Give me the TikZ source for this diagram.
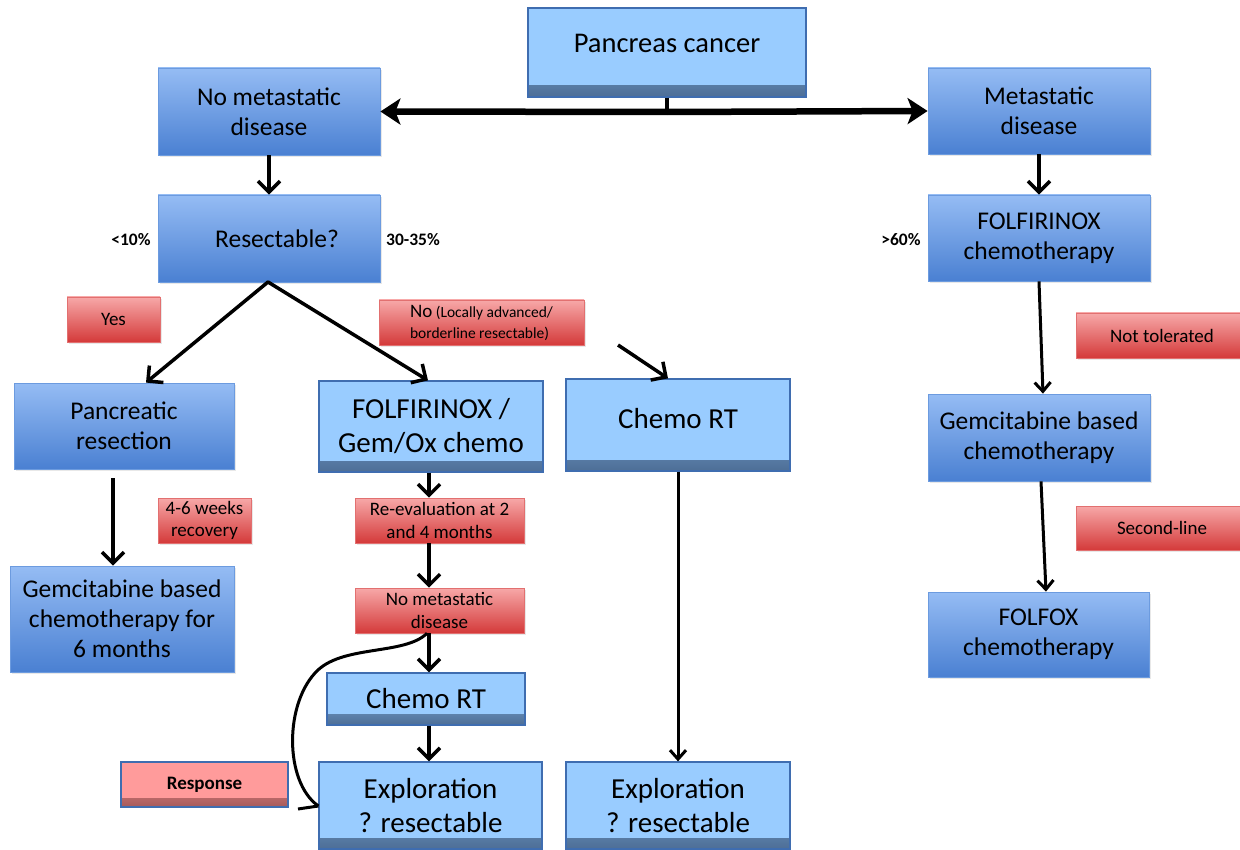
\documentclass[tikz,border=0pt]{standalone}
\usepackage{fontspec}
\setmainfont{Carlito}
\usetikzlibrary{arrows.meta,shadows}
\definecolor{lb}{HTML}{99CCFF}
\definecolor{lbd}{HTML}{4D6E96}
\definecolor{lbline}{HTML}{3F6DB0}
\definecolor{mt}{HTML}{95BCF4}
\definecolor{mb}{HTML}{4A80D2}
\definecolor{mline}{HTML}{6C9BDF}
\definecolor{rt}{HTML}{F7A8A8}
\definecolor{rb}{HTML}{D43A3A}
\definecolor{rline}{HTML}{E27070}
\definecolor{rp}{HTML}{FF9B9B}
\definecolor{rpd}{HTML}{A65A5A}
\tikzset{
  base/.style={rectangle, inner sep=2pt, align=center, text=black},
  mbox/.style={base, draw=mline, line width=0.8pt, top color=mt, bottom color=mb,
    font=\fontsize{25.5}{30}\selectfont,
    drop shadow={opacity=0.18, shadow xshift=2pt, shadow yshift=-2pt}},
  lbox/.style={base, draw=lbline, line width=1.2pt, fill=lb,
    font=\fontsize{29}{34}\selectfont,
    path picture={\fill[top color=lb, bottom color=lbd]
      ([yshift=11pt]path picture bounding box.south west) rectangle (path picture bounding box.south east);}},
  rbox/.style={base, draw=rline, line width=0.6pt, top color=rt, bottom color=rb,
    font=\fontsize{19}{22.5}\selectfont,
    drop shadow={opacity=0.18, shadow xshift=2pt, shadow yshift=-2pt}},
  respbox/.style={base, draw=lbline, line width=1.2pt, fill=rp,
    font=\fontsize{19}{22}\selectfont\bfseries,
    path picture={\fill[top color=rp, bottom color=rpd]
      ([yshift=9pt]path picture bounding box.south west) rectangle (path picture bounding box.south east);}},
  pct/.style={font=\fontsize{17.5}{20}\selectfont\bfseries, inner sep=0pt},
  arr/.style={line width=3.5pt, -{Straight Barb[length=11pt,width=22pt,line width=3.5pt]}},
  thinarr/.style={line width=3pt, -{Straight Barb[length=9pt,width=16pt,line width=3pt]}},
  mainarr/.style={line width=6.5pt, -{Stealth[length=20pt,width=26pt,inset=5pt]}},
  plain/.style={line width=3.5pt}
}
\begin{document}
\begin{tikzpicture}[x=1pt,y=-1pt]
\fill[white] (0,0) rectangle (1240,850);
\useasboundingbox (0,0) rectangle (1240,850);

% top row
\node[lbox, minimum width=278pt, minimum height=89pt, text height=19pt, text depth=19pt, font=\fontsize{28.5}{34}\selectfont] (pc) at (667,52.5) {Pancreas cancer};
\node[mbox, minimum width=222pt, minimum height=87pt] (nomet) at (269,111.5) {No metastatic\\disease};
\node[mbox, minimum width=222pt, minimum height=86pt] (met) at (1039,111) {Metastatic\\disease};

% second row
\node[mbox, minimum width=222pt, minimum height=87pt] (res) at (269,238.5) {\hspace*{16pt}Resectable?};
\node[mbox, minimum width=222pt, minimum height=86pt] (folf) at (1039,238) {FOLFIRINOX\\chemotherapy};
\node[pct] (lt10) at (131,240) {<10\%};
\node[pct] (p3035) at (413,240) {30-35\%};
\node[pct] (gt60) at (901,240) {>60\%};

% labels
\node[rbox, minimum width=93pt, minimum height=45pt] (yes) at (113.5,319.5) {Yes};
\node[rbox, minimum width=205pt, minimum height=45pt, align=left, font=\fontsize{15.5}{21}\selectfont] (no) at (481.5,322.5)
  {{\fontsize{19}{21}\selectfont No} (Locally advanced/\\borderline resectable)};
\node[rbox, minimum width=172pt, minimum height=45pt] (notol) at (1162,335.5) {Not tolerated};

% third row
\node[mbox, minimum width=220pt, minimum height=86pt] (panres) at (124,426) {Pancreatic\\resection};
\node[lbox, minimum width=224pt, minimum height=91pt] (folfgem) at (431,426.5) {FOLFIRINOX /\\Gem/Ox chemo};
\node[lbox, minimum width=224pt, minimum height=92pt, text height=20pt, text depth=14pt] (crt2) at (678,425) {Chemo RT};
\node[mbox, minimum width=222pt, minimum height=87pt] (gem2) at (1039,437.5) {Gemcitabine based\\chemotherapy};

\node[rbox, minimum width=93pt, minimum height=45pt] (rec) at (204.5,520.5) {4-6 weeks\\recovery};
\node[rbox, minimum width=169pt, minimum height=45pt] (reeval) at (439.5,520.5) {Re-evaluation at 2\\and 4 months};
\node[rbox, minimum width=172pt, minimum height=44pt] (second) at (1162,528) {Second-line};

% fourth row
\node[mbox, minimum width=224pt, minimum height=106pt] (gem6) at (122,619) {Gemcitabine based\\chemotherapy for\\6 months};
\node[rbox, minimum width=169pt, minimum height=45pt] (nomet2) at (439.5,610.5) {No metastatic\\disease};
\node[mbox, minimum width=221pt, minimum height=85pt] (folfox) at (1038.5,634.5) {FOLFOX\\chemotherapy};
\node[lbox, minimum width=198pt, minimum height=52pt] (crt1) at (426,699) {Chemo RT};

% bottom row
\node[respbox, minimum width=167pt, minimum height=45pt] (resp) at (204.5,784.5) {Response};
\node[lbox, minimum width=223pt, minimum height=87pt] (exp1) at (430.5,805.5) {Exploration\\? resectable};
\node[lbox, minimum width=224pt, minimum height=87pt] (exp2) at (678,805.5) {Exploration\\? resectable};

% connectors
\coordinate (j) at (667,112);
\draw[plain] (pc.south) -- (j);
\draw[mainarr] (j) -- (nomet.east);
\draw[mainarr] (j) -- (met.west);

\draw[arr] (nomet.south) -- (res.north);
\draw[arr] (met.south) -- (folf.north);

\coordinate (apex) at (268,282);
\draw[arr, line cap=round] (apex) -- ([xshift=22pt]panres.north);
\draw[arr, line cap=round] (apex) -- ([xshift=-3pt]folfgem.north);
\coordinate (s) at (618,345);
\draw[arr] (s) -- ([xshift=-10pt]crt2.north);

\draw[arr] ([xshift=-11pt,yshift=-9pt]panres.south) -- ([xshift=-9pt]gem6.north);
\draw[arr] ([xshift=-2pt]folfgem.south) -- ([xshift=-10.5pt]reeval.north);
\draw[arr] ([xshift=-10.5pt]reeval.south) -- ([xshift=-10.5pt]nomet2.north);
\draw[arr] ([xshift=-10.5pt]nomet2.south) -- ([xshift=3pt]crt1.north);
\draw[arr] ([xshift=3pt]crt1.south) -- ([xshift=-1.5pt]exp1.north);
\draw[thinarr] (crt2.south) -- (exp2.north);

\draw[thinarr] (folf.south) -- ([xshift=4pt]gem2.north);
\draw[thinarr] ([xshift=2pt]gem2.south) -- ([xshift=7.5pt]folfox.north);

% response curve
\coordinate (c0) at ([xshift=-12.5pt]nomet2.south);
\coordinate (c1) at (exp1.west |- 0,806);
\coordinate (c2) at (298,809);
\draw[line width=3pt] (c0) .. controls (405,655) and (345,645) .. (318,670)
   .. controls (284,702) and (284,782) .. (c1);
\draw[line width=3pt] (c1) -- (c2);
\end{tikzpicture}
\end{document}
